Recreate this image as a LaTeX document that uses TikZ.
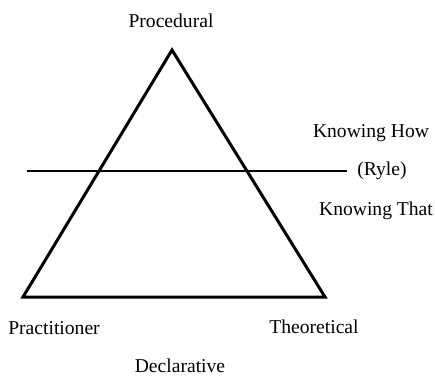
\documentclass[tikz,border=0pt]{standalone}
\usepackage{fontspec}
\setmainfont{Liberation Serif}
\usetikzlibrary{positioning}

\begin{document}
\begin{tikzpicture}[x=1pt, y=-1pt,
     node distance = 3mm and 3mm,
        lbl/.style = {font=\fontsize{19.6}{23}\selectfont, inner sep=0pt},
        edge/.style = {line width=3pt, line join=miter},
        split/.style = {line width=2.2pt}
                        ]
\useasboundingbox (0,0) rectangle (435,376);
\coordinate (top)   at (172,50);
\coordinate (left)  at (23,297);
\coordinate (right) at (325,297);
\coordinate (ls)    at (27,171);
\coordinate (le)    at (347,171);
\draw[edge] (top) -- (left) -- (right) -- cycle;
\draw[split] (ls) -- (le);
\node (proc)  [lbl] at (171,21)  {Procedural};
\node (how)   [lbl] at (371,133) {Knowing How};
\node (ryle)  [lbl] at (382,171) {(Ryle)};
\node (that)  [lbl] at (376,211) {Knowing That};
\node (prac)  [lbl] at (54,328)  {Practitioner};
\node (theo)  [lbl] at (314,327) {Theoretical};
\node (decl)  [lbl] at (180,366) {Declarative};
\end{tikzpicture}
\end{document}
